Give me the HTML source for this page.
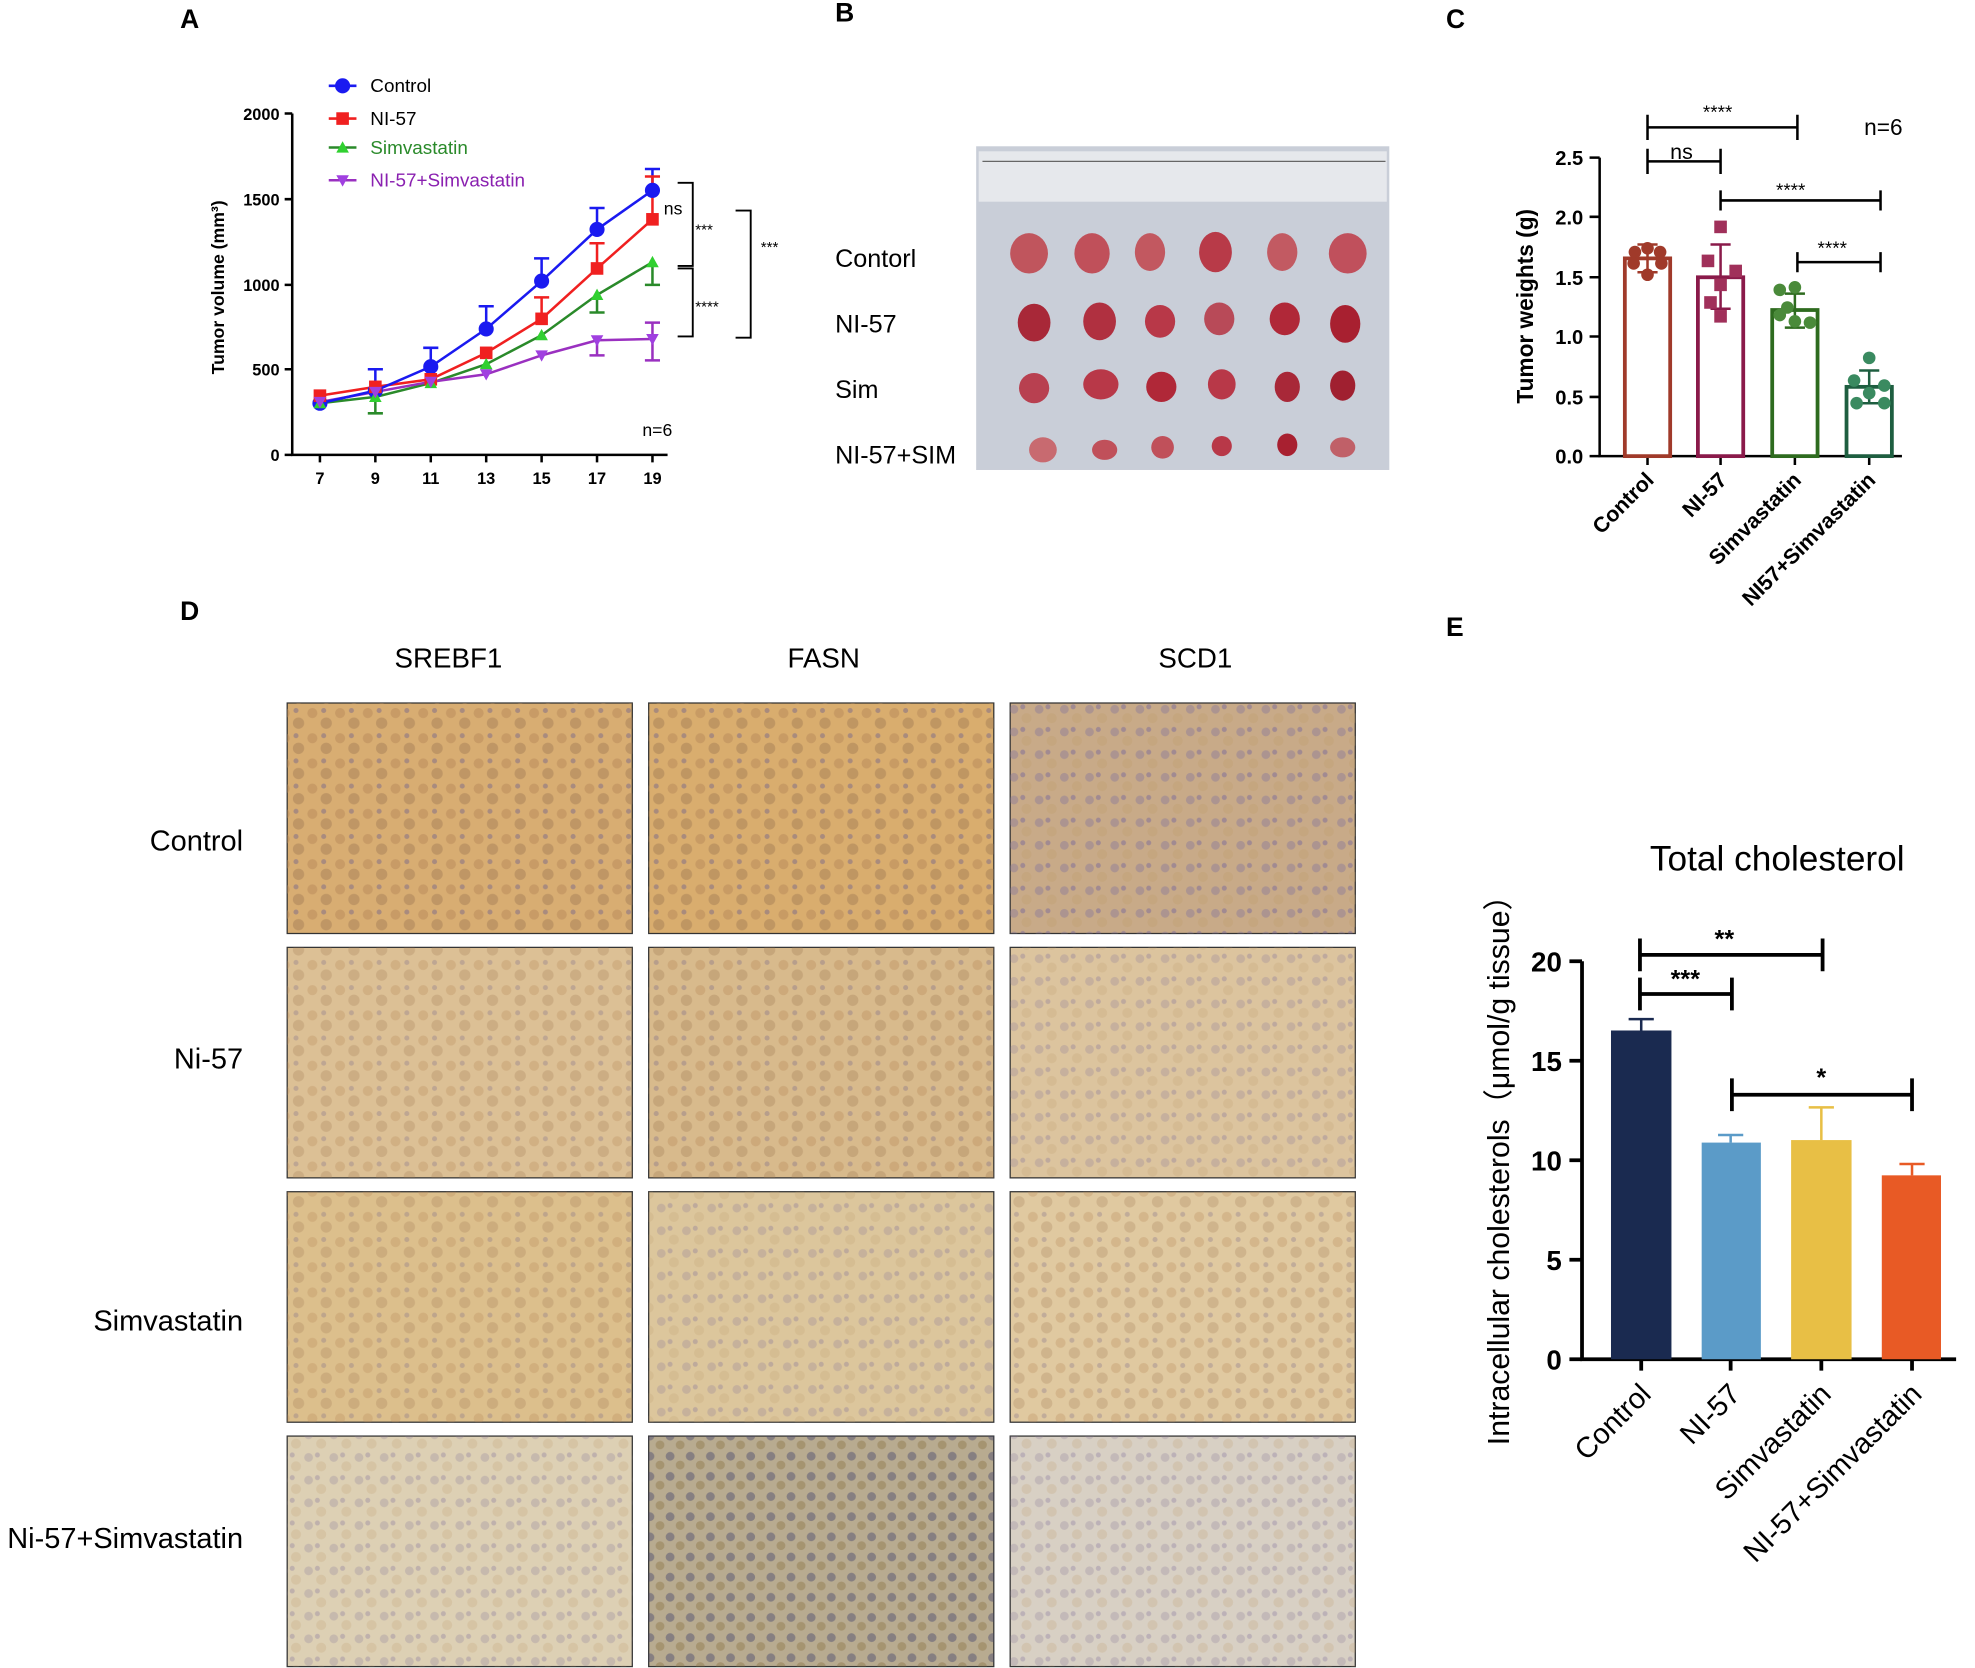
<!DOCTYPE html>
<html><head><meta charset="utf-8"><style>
html,body{margin:0;padding:0;background:#fff}
svg{display:block}
text{font-family:"Liberation Sans",Arial,sans-serif}
</style></head><body>
<svg width="1975" height="1668" viewBox="0 0 1568 1324" xmlns="http://www.w3.org/2000/svg">
<defs>
<pattern id="cellA" width="22" height="20" patternUnits="userSpaceOnUse">
<circle cx="6" cy="6" r="4" fill="#b88a5a" opacity=".5"/><circle cx="17" cy="14" r="4.5" fill="#a07a55" opacity=".45"/><circle cx="15" cy="4" r="2" fill="#7a6a8a" opacity=".5"/></pattern>
<pattern id="cellB" width="20" height="18" patternUnits="userSpaceOnUse">
<circle cx="5" cy="5" r="3.5" fill="#8a7a9a" opacity=".45"/><circle cx="15" cy="12" r="4" fill="#c0a070" opacity=".4"/><circle cx="12" cy="3" r="2" fill="#7a6a9a" opacity=".5"/></pattern>
<pattern id="cellC" width="16" height="16" patternUnits="userSpaceOnUse">
<circle cx="4" cy="4" r="3.5" fill="#4a4a70" opacity=".45"/><circle cx="12" cy="11" r="3.5" fill="#8a7040" opacity=".4"/></pattern>
</defs>

<g font-weight="bold" font-size="21">
<text x="143" y="22">A</text><text x="663" y="17">B</text><text x="1148" y="22">C</text>
<text x="143" y="492">D</text><text x="1148" y="505">E</text></g>

<!-- Panel A -->
<g stroke="#000" stroke-width="2" fill="none">
<path d="M232 90 V361 H530"/>
<path d="M226 90 H232 M226 158 H232 M226 226 H232 M226 293 H232 M226 361 H232"/>
<path d="M254 361v6 M298 361v6 M342 361v6 M386 361v6 M430 361v6 M474 361v6 M518 361v6"/>
</g>
<g font-size="13" font-weight="bold" text-anchor="end">
<text x="222" y="95">2000</text><text x="222" y="163">1500</text><text x="222" y="231">1000</text><text x="222" y="298">500</text><text x="222" y="366">0</text></g>
<g font-size="13" font-weight="bold" text-anchor="middle">
<text x="254" y="384">7</text><text x="298" y="384">9</text><text x="342" y="384">11</text><text x="386" y="384">13</text><text x="430" y="384">15</text><text x="474" y="384">17</text><text x="518" y="384">19</text></g>
<text transform="translate(178 228) rotate(-90)" font-size="14" font-weight="bold" text-anchor="middle">Tumor volume (mm³)</text>
<text x="510" y="346" font-size="14">n=6</text>
<g fill="none" stroke-width="2">
<polyline stroke="#2a8a2a" points="254,320 298,315 342,304 386,289 430,266 474,234 518,208"/>
<polyline stroke="#9a30c0" points="254,319 298,311 342,303 386,297 430,282 474,270 518,269"/>
<polyline stroke="#f02020" points="254,314 298,307 342,301 386,280 430,253 474,213 518,174"/>
<polyline stroke="#1a1af0" points="254,320 298,310 342,291 386,261 430,223 474,182 518,151"/>
<path stroke="#1a1af0" d="M386 261V243M380 243h12M430 223V205M424 205h12M474 182V165M468 165h12M518 151V134M512 134h12M342 291V276M336 276h12M298 310V293M292 293h12"/>
<path stroke="#f02020" d="M474 213V193M468 193h12M518 174V140M512 140h12M430 253V236M424 236h12"/>
<path stroke="#2a8a2a" d="M474 234V248M468 248h12M518 208V226M512 226h12M298 315V328M292 328h12"/>
<path stroke="#9a30c0" d="M518 269V286M512 286h12M474 270V282M468 282h12M518 269V256M512 256h12"/>
</g>
<g fill="#1a1af0"><circle cx="254" cy="320" r="6"/><circle cx="298" cy="310" r="6"/><circle cx="342" cy="291" r="6"/><circle cx="386" cy="261" r="6"/><circle cx="430" cy="223" r="6"/><circle cx="474" cy="182" r="6"/><circle cx="518" cy="151" r="6"/></g>
<g fill="#f02020"><rect x="249" y="309" width="10" height="10"/><rect x="293" y="302" width="10" height="10"/><rect x="337" y="296" width="10" height="10"/><rect x="381" y="275" width="10" height="10"/><rect x="425" y="248" width="10" height="10"/><rect x="469" y="208" width="10" height="10"/><rect x="513" y="169" width="10" height="10"/></g>
<g fill="#30d030"><path d="M254 315l5 9h-10z M298 310l5 9h-10z M342 299l5 9h-10z M386 284l5 9h-10z M430 261l5 9h-10z M474 229l5 9h-10z M518 203l5 9h-10z"/></g>
<g fill="#a040e0"><path d="M249 315h10l-5 9z M293 307h10l-5 9z M337 299h10l-5 9z M381 293h10l-5 9z M425 278h10l-5 9z M469 266h10l-5 9z M513 265h10l-5 9z"/></g>
<g stroke-width="2"><line x1="261" y1="68" x2="283" y2="68" stroke="#1a1af0"/><circle cx="272" cy="68" r="6" fill="#1a1af0"/>
<line x1="261" y1="94" x2="283" y2="94" stroke="#f02020"/><rect x="267" y="89" width="10" height="10" fill="#f02020"/>
<line x1="261" y1="117" x2="283" y2="117" stroke="#2a8a2a"/><path d="M272 112l5 9h-10z" fill="#30d030"/>
<line x1="261" y1="143" x2="283" y2="143" stroke="#9a30c0"/><path d="M267 139h10l-5 9z" fill="#a040e0"/></g>
<g font-size="15"><text x="294" y="73">Control</text><text x="294" y="99">NI-57</text><text x="294" y="122" fill="#2a8a2a">Simvastatin</text><text x="294" y="148" fill="#8a20b0">NI-57+Simvastatin</text></g>
<g fill="none" stroke="#000" stroke-width="1.5">
<path d="M538 145h12v66h-12 M538 213h12v54h-12 M584 167h12v101h-12"/></g>
<g font-size="12"><text x="527" y="170" font-size="14">ns</text><text x="552" y="186">***</text><text x="552" y="247">****</text><text x="604" y="200">***</text></g>

<!-- Panel B -->
<rect x="775" y="116" width="328" height="257" fill="#c9ced8"/>
<rect x="777" y="120" width="324" height="40" fill="#e6e8ec"/>
<line x1="780" y1="128" x2="1100" y2="128" stroke="#666" stroke-width="1"/>
<g fill="#b03040">
<ellipse cx="817" cy="201" rx="15" ry="16" fill="#c0555d"/><ellipse cx="867" cy="201" rx="14" ry="16" fill="#c0505a"/><ellipse cx="913" cy="200" rx="12" ry="15" fill="#c25860"/><ellipse cx="965" cy="200" rx="13" ry="16" fill="#b83a48"/><ellipse cx="1018" cy="200" rx="12" ry="15" fill="#c25a62"/><ellipse cx="1070" cy="201" rx="15" ry="16" fill="#c0505c"/>
<ellipse cx="821" cy="256" rx="13" ry="15" fill="#a82838"/><ellipse cx="873" cy="255" rx="13" ry="15"/><ellipse cx="921" cy="255" rx="12" ry="13" fill="#b83848"/><ellipse cx="968" cy="253" rx="12" ry="13" fill="#b84a58"/><ellipse cx="1020" cy="253" rx="12" ry="13" fill="#b02838"/><ellipse cx="1068" cy="257" rx="12" ry="15" fill="#a82030"/>
<ellipse cx="821" cy="308" rx="12" ry="12" fill="#b84050"/><ellipse cx="874" cy="305" rx="14" ry="12" fill="#b83848"/><ellipse cx="922" cy="307" rx="12" ry="12" fill="#b02838"/><ellipse cx="970" cy="305" rx="11" ry="12" fill="#b83848"/><ellipse cx="1022" cy="307" rx="10" ry="12" fill="#a82838"/><ellipse cx="1066" cy="306" rx="10" ry="12" fill="#a02030"/>
<ellipse cx="828" cy="357" rx="11" ry="10" fill="#c86a70"/><ellipse cx="877" cy="357" rx="10" ry="8" fill="#c0505a"/><ellipse cx="923" cy="355" rx="9" ry="9" fill="#c0505a"/><ellipse cx="970" cy="354" rx="8" ry="8" fill="#b83848"/><ellipse cx="1022" cy="353" rx="8" ry="9" fill="#a82030"/><ellipse cx="1066" cy="355" rx="10" ry="8" fill="#c06068"/></g>
<g font-size="20"><text x="663" y="212">Contorl</text><text x="663" y="264">NI-57</text><text x="663" y="316">Sim</text><text x="663" y="368">NI-57+SIM</text></g>

<!-- Panel C -->
<g stroke="#000" stroke-width="2" fill="none">
<path d="M1270 125V362H1510"/>
<path d="M1262 125h8M1262 172h8M1262 220h8M1262 267h8M1262 315h8M1262 362h8"/>
<path d="M1308 362v7M1366 362v7M1425 362v7M1484 362v7"/></g>
<g font-size="16" font-weight="bold" text-anchor="end">
<text x="1257" y="131">2.5</text><text x="1257" y="178">2.0</text><text x="1257" y="226">1.5</text><text x="1257" y="273">1.0</text><text x="1257" y="321">0.5</text><text x="1257" y="368">0.0</text></g>
<text transform="translate(1217 243) rotate(-90)" font-size="18" font-weight="bold" text-anchor="middle">Tumor weights (g)</text>
<g fill="none" stroke-width="3">
<rect x="1290" y="205" width="36" height="157" stroke="#a03a2a"/>
<rect x="1348" y="220" width="36" height="142" stroke="#8a1a4a"/>
<rect x="1407" y="246" width="36" height="116" stroke="#2e6b1f"/>
<rect x="1466" y="307" width="36" height="55" stroke="#1e5e40"/>
<path d="M1308 205v-11M1300 194h16M1308 205v11M1300 216h16" stroke="#a03a2a" stroke-width="2"/>
<path d="M1366 220v-26M1358 194h16M1366 220v25M1358 245h16" stroke="#8a1a4a" stroke-width="2"/>
<path d="M1425 246v-13M1417 233h16M1425 246v14M1417 260h16" stroke="#2e6b1f" stroke-width="2"/>
<path d="M1484 307v-13M1476 294h16M1484 307v13M1476 320h16" stroke="#1e5e40" stroke-width="2"/></g>
<g fill="#a03a2a"><circle cx="1298" cy="200" r="5"/><circle cx="1308" cy="197" r="5"/><circle cx="1318" cy="200" r="5"/><circle cx="1297" cy="209" r="5"/><circle cx="1319" cy="209" r="5"/><circle cx="1308" cy="218" r="5"/></g>
<g fill="#a0305a"><rect x="1361" y="175" width="10" height="10"/><rect x="1351" y="202" width="10" height="10"/><rect x="1373" y="210" width="10" height="10"/><rect x="1361" y="221" width="10" height="10"/><rect x="1353" y="235" width="10" height="10"/><rect x="1361" y="246" width="10" height="10"/></g>
<g fill="#4a8a3a"><circle cx="1413" cy="230" r="5"/><circle cx="1425" cy="228" r="5"/><circle cx="1413" cy="250" r="5"/><circle cx="1425" cy="255" r="5"/><circle cx="1437" cy="256" r="5"/><circle cx="1419" cy="244" r="5"/></g>
<g fill="#3a8a60"><circle cx="1484" cy="284" r="5"/><circle cx="1472" cy="302" r="5"/><circle cx="1496" cy="306" r="5"/><circle cx="1484" cy="312" r="5"/><circle cx="1474" cy="320" r="5"/><circle cx="1496" cy="320" r="5"/></g>
<g stroke="#000" stroke-width="2" fill="none">
<path d="M1308 91v20M1308 101H1427M1427 91v20"/><path d="M1308 118v20M1308 128H1366M1366 118v20"/>
<path d="M1366 151v16M1366 159H1493M1493 151v16"/><path d="M1427 200v16M1427 208H1493M1493 200v16"/></g>
<g font-size="15"><text x="1352" y="94">****</text><text x="1326" y="126" font-size="17">ns</text><text x="1410" y="156">****</text><text x="1443" y="202">****</text><text x="1480" y="107" font-size="18">n=6</text></g>
<g font-size="17" font-weight="bold" text-anchor="end">
<text transform="translate(1314 382) rotate(-45)">Control</text><text transform="translate(1372 382) rotate(-45)">NI-57</text>
<text transform="translate(1431 382) rotate(-45)">Simvastatin</text><text transform="translate(1490 382) rotate(-45)">NI57+Simvastatin</text></g>

<!-- Panel D -->
<g font-size="22" text-anchor="middle"><text x="356" y="530">SREBF1</text><text x="654" y="530">FASN</text><text x="949" y="530">SCD1</text></g>
<g font-size="23" text-anchor="end"><text x="193" y="675">Control</text><text x="193" y="848">Ni-57</text><text x="193" y="1056">Simvastatin</text><text x="193" y="1229">Ni-57+Simvastatin</text></g>
<g stroke="#333" stroke-width="1">
<rect x="228" y="558" width="274" height="183" fill="#d8ad72"/><rect x="515" y="558" width="274" height="183" fill="#d9ad6e"/><rect x="802" y="558" width="274" height="183" fill="#c8aa88"/>
<rect x="228" y="752" width="274" height="183" fill="#dcc095"/><rect x="515" y="752" width="274" height="183" fill="#d8ba8c"/><rect x="802" y="752" width="274" height="183" fill="#dcc49e"/>
<rect x="228" y="946" width="274" height="183" fill="#dcbf8c"/><rect x="515" y="946" width="274" height="183" fill="#dcc69c"/><rect x="802" y="946" width="274" height="183" fill="#e0c9a0"/>
<rect x="228" y="1140" width="274" height="183" fill="#ddd0b4"/><rect x="515" y="1140" width="274" height="183" fill="#b8ab90"/><rect x="802" y="1140" width="274" height="183" fill="#d8d0c4"/></g>
<g>
<rect x="228" y="558" width="274" height="183" fill="url(#cellA)"/><rect x="515" y="558" width="274" height="183" fill="url(#cellA)"/><rect x="802" y="558" width="274" height="183" fill="url(#cellB)"/>
<rect x="228" y="752" width="274" height="183" fill="url(#cellA)" opacity=".6"/><rect x="515" y="752" width="274" height="183" fill="url(#cellA)" opacity=".7"/><rect x="802" y="752" width="274" height="183" fill="url(#cellB)" opacity=".6"/>
<rect x="228" y="946" width="274" height="183" fill="url(#cellA)" opacity=".6"/><rect x="515" y="946" width="274" height="183" fill="url(#cellB)" opacity=".6"/><rect x="802" y="946" width="274" height="183" fill="url(#cellA)" opacity=".6"/>
<rect x="228" y="1140" width="274" height="183" fill="url(#cellB)" opacity=".6"/><rect x="515" y="1140" width="274" height="183" fill="url(#cellC)"/><rect x="802" y="1140" width="274" height="183" fill="url(#cellB)" opacity=".6"/></g>

<!-- Panel E -->
<text x="1411" y="691" font-size="28" text-anchor="middle">Total cholesterol</text>
<g stroke="#000" stroke-width="3" fill="none">
<path d="M1256 763V1079H1553"/>
<path d="M1246 763h10M1246 842h10M1246 921h10M1246 1000h10M1246 1079h10"/>
<path d="M1303 1079v9M1374 1079v9M1446 1079v9M1518 1079v9"/></g>
<g font-size="22" font-weight="bold" text-anchor="end">
<text x="1240" y="771">20</text><text x="1240" y="850">15</text><text x="1240" y="929">10</text><text x="1240" y="1008">5</text><text x="1240" y="1087">0</text></g>
<text transform="translate(1198 923) rotate(-90)" font-size="24" text-anchor="middle">Intracellular cholesterols（μmol/g tissue）</text>
<rect x="1279" y="818" width="48" height="261" fill="#1a2a50"/>
<rect x="1351" y="907" width="47" height="172" fill="#5b9bc8"/>
<rect x="1422" y="905" width="48" height="174" fill="#e8bf45"/>
<rect x="1494" y="933" width="47" height="146" fill="#e85a25"/>
<g stroke-width="2" fill="none">
<path d="M1303 818v-9M1293 809h20" stroke="#1a2a50"/><path d="M1374 907v-6M1364 901h20" stroke="#5b9bc8"/>
<path d="M1446 905v-26M1436 879h20" stroke="#e8bf45"/><path d="M1518 933v-9M1508 924h20" stroke="#e85a25"/></g>
<g stroke="#000" stroke-width="3" fill="none">
<path d="M1302 745v26M1302 758H1447M1447 745v26"/><path d="M1302 776v26M1302 789H1375M1375 776v26"/>
<path d="M1375 856v26M1375 869H1518M1518 856v26"/></g>
<g font-size="20" font-weight="bold" text-anchor="middle"><text x="1369" y="752">**</text><text x="1338" y="784">***</text><text x="1446" y="862">*</text></g>
<g font-size="23" text-anchor="end">
<text transform="translate(1312 1108) rotate(-45)">Control</text><text transform="translate(1383 1108) rotate(-45)">NI-57</text>
<text transform="translate(1455 1108) rotate(-45)">Simvastatin</text><text transform="translate(1527 1108) rotate(-45)">NI-57+Simvastatin</text></g>
</svg>
</body></html>
